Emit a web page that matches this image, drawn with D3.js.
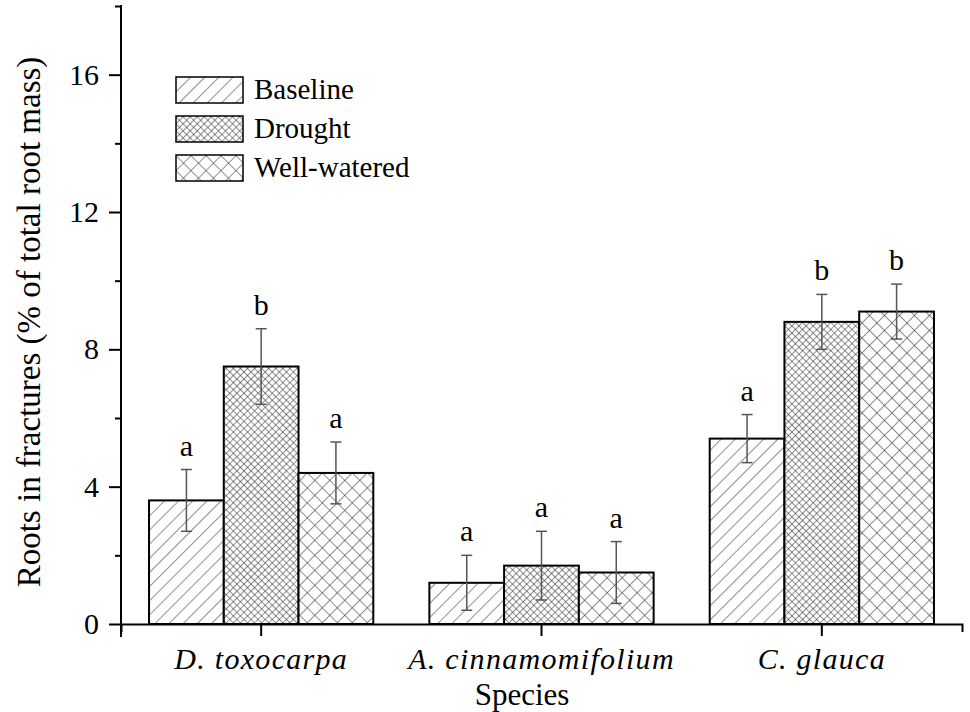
<!DOCTYPE html>
<html>
<head>
<meta charset="utf-8">
<script src="https://cdn.jsdelivr.net/npm/d3@7.9.0/dist/d3.min.js"></script>
<style>
  body { margin: 0; background: #fff; }
  svg { display: block; font-family: "Liberation Serif", "Times New Roman", serif; }
</style>
</head>
<body>
<svg id="chart" width="970" height="712"></svg>
<script>
// data
const species = ['D. toxocarpa', 'A. cinnamomifolium', 'C. glauca'];
const treatments = ['Baseline', 'Drought', 'Well-watered'];
const baseline = [3.6, 1.2, 5.4];
const drought = [7.5, 1.7, 8.8];
const wellWatered = [4.4, 1.5, 9.1];
const baselineErr = [0.9, 0.8, 0.7];
const droughtErr = [1.1, 1.0, 0.8];
const wellWateredErr = [0.9, 0.9, 0.8];
const baselineSig = ['a', 'a', 'a'];
const droughtSig = ['b', 'a', 'b'];
const wellWateredSig = ['a', 'a', 'b'];
const yMajor = [0, 4, 8, 12, 16];
const yMinor = [2, 6, 10, 14, 18];

const means = [baseline, drought, wellWatered];
const errs = [baselineErr, droughtErr, wellWateredErr];
const sigs = [baselineSig, droughtSig, wellWateredSig];

const svg = d3.select('#chart');
const serif = '"Liberation Serif", "Times New Roman", serif';
const mLeft = 121, mRight = 962, mTop = 6, mBottom = 624;

const x = d3.scaleBand().domain(species).range([mLeft, mRight]).paddingInner(0.2).paddingOuter(0.1);
const xs = d3.scaleBand().domain(treatments).range([0, x.bandwidth()]);
const y = d3.scaleLinear().domain([0, 18]).range([mBottom, mTop]);

// hatch patterns
const defs = svg.append('defs');
function hatch(id, gap, cross) {
  const p = defs.append('pattern')
    .attr('id', id)
    .attr('patternUnits', 'userSpaceOnUse')
    .attr('width', gap).attr('height', gap)
    .attr('patternTransform', 'rotate(45)');
  p.append('rect').attr('width', gap).attr('height', gap).attr('fill', '#fff');
  p.append('line').attr('x1', 0).attr('y1', 0).attr('x2', 0).attr('y2', gap)
    .attr('stroke', '#333').attr('stroke-width', 1.1);
  if (cross) {
    p.append('line').attr('x1', 0).attr('y1', 0).attr('x2', gap).attr('y2', 0)
      .attr('stroke', '#333').attr('stroke-width', 1.1);
  }
}
hatch('p0', 10, false);
hatch('p1', 5, true);
hatch('p2', 10.6, true);
const fills = ['url(#p0)', 'url(#p1)', 'url(#p2)'];

// bars
treatments.forEach((t, ti) => {
  const g = svg.append('g');
  species.forEach((s, si) => {
    const x0 = x(s) + xs(t);
    g.append('rect')
      .attr('x', x0).attr('y', y(means[ti][si]))
      .attr('width', xs.bandwidth()).attr('height', y(0) - y(means[ti][si]))
      .attr('fill', fills[ti]).attr('stroke', '#000').attr('stroke-width', 2);
  });
});

// error bars and letters
treatments.forEach((t, ti) => {
  species.forEach((s, si) => {
    const cx = x(s) + xs(t) + xs.bandwidth() / 2;
    const hi = y(means[ti][si] + errs[ti][si]);
    const lo = y(means[ti][si] - errs[ti][si]);
    const eb = svg.append('g').attr('stroke', '#555').attr('stroke-width', 1.5);
    eb.append('line').attr('x1', cx).attr('x2', cx).attr('y1', hi).attr('y2', lo);
    eb.append('line').attr('x1', cx - 5.5).attr('x2', cx + 5.5).attr('y1', hi).attr('y2', hi);
    eb.append('line').attr('x1', cx - 5.5).attr('x2', cx + 5.5).attr('y1', lo).attr('y2', lo);
    svg.append('text')
      .attr('x', cx).attr('y', hi - 14)
      .attr('text-anchor', 'middle')
      .attr('font-family', serif)
      .attr('font-size', 30)
      .text(sigs[ti][si]);
  });
});

// y axis
const yAxis = svg.append('g').attr('transform', `translate(${mLeft},0)`)
  .call(d3.axisLeft(y).tickValues(yMajor).tickSize(12).tickPadding(10).tickFormat(d3.format('d')));
yAxis.select('.domain').remove();
yAxis.selectAll('line').attr('stroke-width', 2);
yAxis.selectAll('text').attr('font-size', 30).attr('fill', '#000').attr('font-family', serif);
const yMin = svg.append('g').attr('transform', `translate(${mLeft},0)`)
  .call(d3.axisLeft(y).tickValues(yMinor).tickSize(6).tickFormat(''));
yMin.select('.domain').remove();
yMin.selectAll('line').attr('stroke-width', 2);
svg.append('line')
  .attr('x1', mLeft).attr('x2', mLeft).attr('y1', y(18) - 1).attr('y2', mBottom + 13)
  .attr('stroke', '#000').attr('stroke-width', 2);

// x axis
const xAxis = svg.append('g').attr('transform', `translate(0,${mBottom})`)
  .call(d3.axisBottom(x).tickSizeInner(12).tickSizeOuter(8));
xAxis.select('.domain').attr('stroke-width', 2);
xAxis.selectAll('line').attr('stroke-width', 2);
xAxis.selectAll('text')
  .attr('y', 45).attr('dy', 0)
  .attr('font-size', 30).attr('font-style', 'italic')
  .attr('letter-spacing', 1.3).attr('fill', '#000')
  .attr('font-family', serif);

// axis titles
svg.append('text')
  .attr('x', 522).attr('y', 705)
  .attr('text-anchor', 'middle').attr('font-size', 31)
  .attr('font-family', serif)
  .text('Species');
svg.append('text')
  .attr('transform', 'translate(40,322) rotate(-90)')
  .attr('text-anchor', 'middle').attr('font-size', 33)
  .attr('font-family', serif)
  .text('Roots in fractures (% of total root mass)');

// legend
const legend = svg.append('g').attr('transform', 'translate(176,77)');
treatments.forEach((t, i) => {
  const row = legend.append('g').attr('transform', `translate(0,${i * 39})`);
  row.append('rect').attr('width', 67).attr('height', 26)
    .attr('fill', fills[i]).attr('stroke', '#000').attr('stroke-width', 1.5);
  row.append('text').attr('x', 78).attr('y', 22)
    .attr('font-family', serif).attr('font-size', 29).text(t);
});
</script>
</body>
</html>
